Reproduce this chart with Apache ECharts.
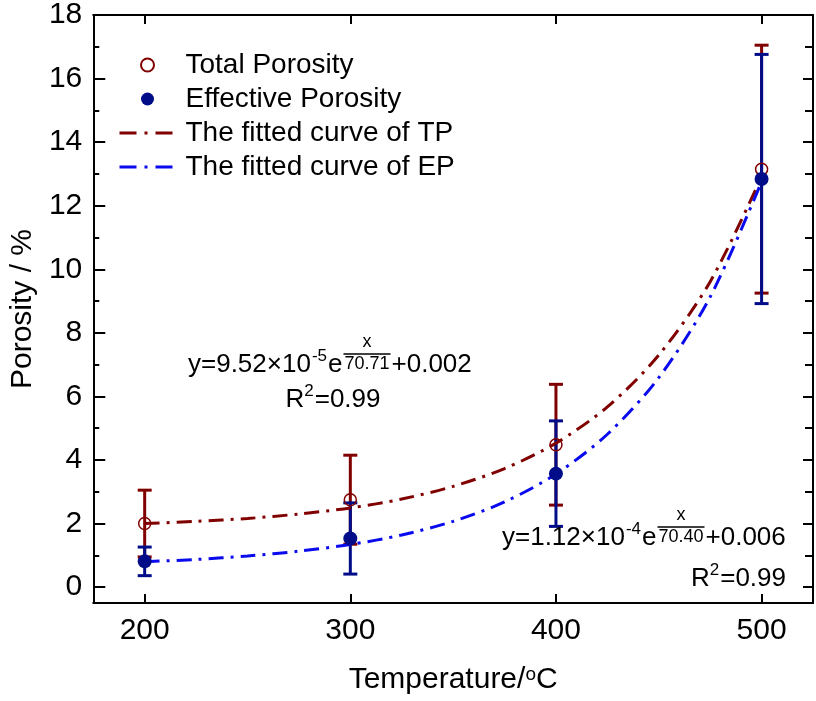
<!DOCTYPE html>
<html>
<head>
<meta charset="utf-8">
<script src="https://cdn.jsdelivr.net/npm/echarts@6/dist/echarts.min.js"></script>
<style>html,body{margin:0;padding:0;background:#fff}#c{width:816px;height:701px}</style>
</head>
<body>
<div id="c"></div>
<script>
// ---- data ----
const temps = [200, 300, 400, 500];
const tpValues = [2.0, 2.75, 4.48, 13.15];
const tpErr = [1.05, 1.4, 1.9, 3.9];
const epValues = [0.81, 1.53, 3.57, 12.84];
const epErr = [0.45, 1.12, 1.66, 3.92];
const fitX = [200, 225, 250, 275, 300, 325, 350, 375, 400, 425, 450, 475, 500];
const tpFit = [2.00, 2.07, 2.16, 2.30, 2.49, 2.77, 3.17, 3.73, 4.53, 5.67, 7.30, 9.61, 12.91];
const epFit = [0.80, 0.87, 0.98, 1.13, 1.34, 1.64, 2.07, 2.68, 3.56, 4.81, 6.59, 9.13, 12.76];
const xTicks = [200, 300, 400, 500];
const yMajor = [0, 2, 4, 6, 8, 10, 12, 14, 16, 18];
const yMinor = [1, 3, 5, 7, 9, 11, 13, 15, 17];

const FONT = "'Liberation Sans', Arial, Helvetica, sans-serif";
const RED = '#800000', NAVY = '#000c88', BLUE = '#0a0aee';
const DASH = [15, 7, 3, 7];

const chart = echarts.init(document.getElementById('c'), null, {renderer: 'canvas'});

const ctx = document.createElement('canvas').getContext('2d');
function tw(t, size) { ctx.font = size + 'px ' + FONT; return ctx.measureText(t).width; }
function txt(t, x, y, size, align) {
  return {type: 'text', silent: true, z: 100, style: {text: t, x: x, y: y, font: size + 'px ' + FONT, fill: '#000', align: align || 'left', verticalAlign: 'middle'}};
}
function formula(x0, y, main1, sup, num, den, tail) {
  const F = 26, FS = 17, FF = 18;
  const els = [];
  let cx = x0;
  els.push(txt(main1, cx, y, F)); cx += tw(main1, F);
  els.push(txt(sup, cx + 1, y - 9, FS)); cx += tw(sup, FS) + 2;
  els.push(txt('e', cx, y, F)); cx += tw('e', F) + 1;
  const wd = tw(den, FF) + 2;
  els.push({type: 'line', silent: true, z: 100, shape: {x1: cx, y1: y - 11, x2: cx + wd, y2: y - 11}, style: {stroke: '#000', lineWidth: 1.6}});
  els.push(txt(num, cx + wd / 2, y - 22.5, FF, 'center'));
  els.push(txt(den, cx + 1, y - 1, FF));
  cx += wd + 1;
  els.push(txt(tail, cx, y, F));
  return els;
}
function rsq(x, y, align) {
  const F = 26, FS = 17;
  const w = tw('R', F) + tw('2', FS) + 1 + tw('=0.99', F);
  let cx = align === 'right' ? x - w : (align === 'center' ? x - w / 2 : x);
  const els = [];
  els.push(txt('R', cx, y, F)); cx += tw('R', F);
  els.push(txt('2', cx, y - 9, FS)); cx += tw('2', FS) + 1;
  els.push(txt('=0.99', cx, y, F));
  return els;
}

function errorSeries(name, vals, errs, color, z) {
  return {
    name: name, type: 'custom', z: z,
    data: temps.map((t, i) => [t, vals[i] - errs[i], vals[i] + errs[i]]),
    renderItem: function (params, api) {
      const lo = api.coord([api.value(0), api.value(1)]);
      const hi = api.coord([api.value(0), api.value(2)]);
      const hw = 7;
      const st = {stroke: color, lineWidth: 3};
      return {type: 'group', children: [
        {type: 'line', shape: {x1: lo[0], y1: lo[1], x2: hi[0], y2: hi[1]}, style: st},
        {type: 'line', shape: {x1: lo[0] - hw, y1: lo[1], x2: lo[0] + hw, y2: lo[1]}, style: st},
        {type: 'line', shape: {x1: hi[0] - hw, y1: hi[1], x2: hi[0] + hw, y2: hi[1]}, style: st}
      ]};
    }
  };
}

const axisLine = {show: true, onZero: false, lineStyle: {color: '#000', width: 2}};
const labelStyle = {color: '#000', fontSize: 30, fontFamily: FONT};
const tickStyle = {color: '#000', width: 2};

const option = {
  animation: false,
  backgroundColor: '#fff',
  grid: {left: 81, right: 3, top: 13, bottom: 98, containLabel: false},
  legend: {
    orient: 'vertical', left: 113, top: 46, itemWidth: 56, itemHeight: 13, itemGap: 6,
    selectedMode: false,
    textStyle: {color: '#000', fontSize: 28, fontFamily: FONT, padding: [0, 0, 0, 5]},
    data: [
      {name: 'Total Porosity'},
      {name: 'Effective Porosity'},
      {name: 'The fitted curve of TP', itemStyle: {opacity: 0}, lineStyle: {type: [17, 8, 3, 8], width: 3, color: RED}},
      {name: 'The fitted curve of EP', itemStyle: {opacity: 0}, lineStyle: {type: [17, 8, 3, 8], width: 3, color: BLUE}}
    ]
  },
  xAxis: [
    {type: 'value', min: 175, max: 525, position: 'bottom',
     axisLine: axisLine,
     axisTick: {show: true, inside: true, length: 9, lineStyle: tickStyle, customValues: xTicks},
     axisLabel: Object.assign({margin: 13, customValues: xTicks}, labelStyle),
     splitLine: {show: false},
     name: '{n|Temperature/}{s|o}{n|C}', nameLocation: 'middle', nameGap: 62,
     nameTextStyle: {rich: {n: {fontSize: 30, fontFamily: FONT, color: '#000'}, s: {fontSize: 19, fontFamily: FONT, color: '#000', verticalAlign: 'top', padding: [0, 0, 10, 0]}}}
    },
    {type: 'value', min: 175, max: 525, position: 'top',
     axisLine: axisLine,
     axisTick: {show: true, inside: true, length: 9, lineStyle: tickStyle, customValues: xTicks},
     axisLabel: {show: false}, splitLine: {show: false}}
  ],
  yAxis: [
    {type: 'value', min: -0.5, max: 18, position: 'left',
     axisLine: axisLine,
     axisTick: {show: true, inside: true, length: 12, lineStyle: tickStyle, customValues: yMajor},
     axisLabel: Object.assign({margin: 11, customValues: yMajor}, labelStyle),
     splitLine: {show: false},
     name: 'Porosity / %', nameLocation: 'middle', nameGap: 52,
     nameTextStyle: {fontSize: 30, fontFamily: FONT, color: '#000'}
    },
    {type: 'value', min: -0.5, max: 18, position: 'left',
     axisLine: {show: false, onZero: false},
     axisTick: {show: true, inside: true, length: 6, lineStyle: tickStyle, customValues: yMinor},
     axisLabel: {show: false}, splitLine: {show: false}},
    {type: 'value', min: -0.5, max: 18, position: 'right',
     axisLine: axisLine,
     axisTick: {show: true, inside: true, length: 10, lineStyle: tickStyle, customValues: yMajor},
     axisLabel: {show: false}, splitLine: {show: false}},
    {type: 'value', min: -0.5, max: 18, position: 'right',
     axisLine: {show: false, onZero: false},
     axisTick: {show: true, inside: true, length: 8, lineStyle: tickStyle, customValues: yMinor},
     axisLabel: {show: false}, splitLine: {show: false}}
  ],
  series: [
    errorSeries('tpErr', tpValues, tpErr, RED, 2),
    errorSeries('epErr', epValues, epErr, NAVY, 3),
    {name: 'The fitted curve of TP', type: 'line', z: 4, smooth: 0.3, symbol: 'none',
     data: fitX.map((x, i) => [x, tpFit[i]]),
     lineStyle: {color: RED, width: 3, type: DASH}, itemStyle: {color: RED}},
    {name: 'The fitted curve of EP', type: 'line', z: 4, smooth: 0.3, symbol: 'none',
     data: fitX.map((x, i) => [x, epFit[i]]),
     lineStyle: {color: BLUE, width: 3, type: DASH}, itemStyle: {color: BLUE}},
    {name: 'Total Porosity', type: 'scatter', z: 5, symbol: 'circle', symbolSize: 12,
     data: temps.map((t, i) => [t, tpValues[i]]),
     itemStyle: {color: 'rgba(255,255,255,0)', borderColor: RED, borderWidth: 1.5, opacity: 1}},
    {name: 'Effective Porosity', type: 'scatter', z: 6, symbol: 'circle', symbolSize: 14,
     data: temps.map((t, i) => [t, epValues[i]]),
     itemStyle: {color: NAVY, opacity: 1}}
  ],
  graphic: [].concat(
    formula(188, 365, 'y=9.52×10', '-5', 'x', '70.71', '+0.002'),
    rsq(333, 400, 'center'),
    formula(502, 538, 'y=1.12×10', '-4', 'x', '70.40', '+0.006'),
    rsq(786, 579, 'right')
  )
};
chart.setOption(option);
</script>
</body>
</html>
